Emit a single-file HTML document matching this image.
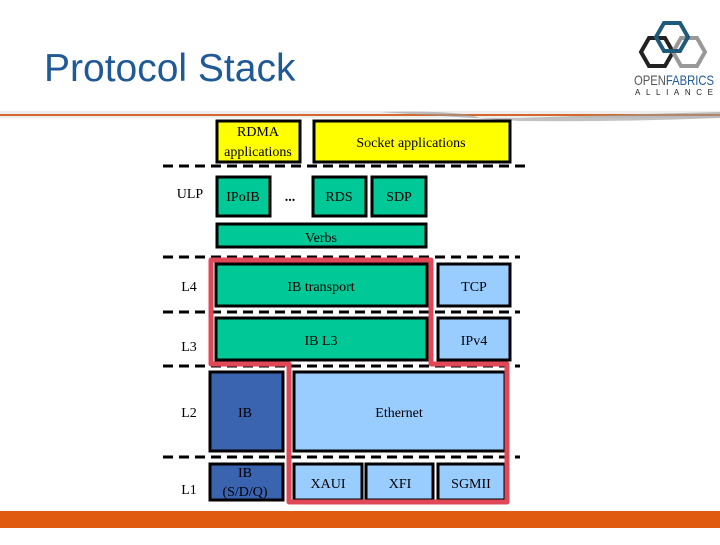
<!DOCTYPE html>
<html><head><style>
body{margin:0;width:720px;height:540px;background:#fff;overflow:hidden;font-family:"Liberation Serif",serif}
</style></head><body>
<svg width="720" height="540" xmlns="http://www.w3.org/2000/svg" font-family="Liberation Serif, serif" font-size="14">
<text x="44" y="81" font-family="Liberation Sans, sans-serif" font-size="39" fill="#1f5a96">Protocol Stack</text>
<!-- logo -->
<g fill="none" stroke-width="4">
<polygon points="641,52 649,38 665,38 673,52 665,66 649,66" stroke="#222"/>
<polygon points="673,52 681,38 697,38 705,52 697,66 681,66" stroke="#999"/>
<polygon points="656,37 664,23 680,23 688,37 680,51 664,51" stroke="#1f5a7a"/>
</g>
<text x="634" y="85" font-family="Liberation Sans, sans-serif" font-size="14" fill="#555" textLength="80" lengthAdjust="spacingAndGlyphs">OPEN<tspan fill="#1f5a96">FABRICS</tspan></text>
<text x="635" y="95" font-family="Liberation Sans, sans-serif" font-size="8" fill="#222" textLength="78" lengthAdjust="spacing">ALLIANCE</text>
<!-- header line -->
<rect x="0" y="111" width="720" height="7" fill="#eee"/>
<rect x="0" y="114" width="720" height="2" fill="#d2692a"/>
<path d="M380,112 Q460,110 480,118 L520,118 Q600,115 720,112 L720,118 Q620,122 520,121 Z" fill="#999" opacity="0.6"/>
<!-- bottom bar -->
<rect x="0" y="511" width="720" height="17" fill="#e05a10"/>
<!-- dashed lines -->
<g stroke="#000" stroke-width="3" stroke-dasharray="10,6">
<line x1="163" y1="166" x2="530" y2="166"/>
<line x1="163" y1="257" x2="520" y2="257"/>
<line x1="163" y1="312" x2="520" y2="312"/>
<line x1="163" y1="366" x2="520" y2="366"/>
<line x1="163" y1="457" x2="520" y2="457"/>
</g>
<g stroke="#000" stroke-width="3">
<rect x="217" y="121" width="83" height="41" fill="#ffff00"/>
<rect x="314" y="121" width="196" height="41" fill="#ffff00"/>
<rect x="217" y="177" width="53" height="39" fill="#00c896"/>
<rect x="313" y="177" width="53" height="39" fill="#00c896"/>
<rect x="372" y="177" width="54" height="39" fill="#00c896"/>
<rect x="217" y="224" width="209" height="23" fill="#00c896"/>
<rect x="216" y="264" width="211" height="42" fill="#00c896"/>
<rect x="438" y="264" width="72" height="42" fill="#99ccff"/>
<rect x="216" y="318" width="211" height="42" fill="#00c896"/>
<rect x="438" y="318" width="72" height="42" fill="#99ccff"/>
<rect x="210" y="372" width="73" height="79" fill="#3a64b0"/>
<rect x="294" y="372" width="211" height="79" fill="#99ccff"/>
<rect x="210" y="464" width="73" height="36" fill="#3a64b0"/>
<rect x="294" y="464" width="68" height="36" fill="#99ccff"/>
<rect x="366" y="464" width="67" height="36" fill="#99ccff"/>
<rect x="438" y="464" width="67" height="36" fill="#99ccff"/>
</g>
<!-- red outline -->
<path d="M211,260 L431,260 L431,364 L507,364 L507,502 L289,502 L289,364 L211,364 Z" fill="none" stroke="#e04858" stroke-width="5" stroke-linejoin="round"/>
<g fill="#000" text-anchor="middle">
<text x="258" y="136">RDMA</text><text x="258" y="156">applications</text>
<text x="411" y="147">Socket applications</text>
<text x="243" y="201">IPoIB</text>
<text x="290" y="201" font-weight="bold">...</text>
<text x="339" y="201">RDS</text><text x="399" y="201">SDP</text>
<text x="321" y="242">Verbs</text>
<text x="321" y="291">IB transport</text><text x="474" y="291">TCP</text>
<text x="321" y="345">IB L3</text><text x="474" y="345">IPv4</text>
<text x="245" y="417">IB</text><text x="399" y="417">Ethernet</text>
<text x="245" y="477">IB</text><text x="245" y="496">(S/D/Q)</text>
<text x="328" y="488">XAUI</text><text x="400" y="488">XFI</text><text x="471" y="488">SGMII</text>
<text x="190" y="198">ULP</text>
<text x="189" y="291">L4</text><text x="189" y="351">L3</text>
<text x="189" y="417">L2</text><text x="189" y="494">L1</text>
</g>
</svg>
</body></html>
